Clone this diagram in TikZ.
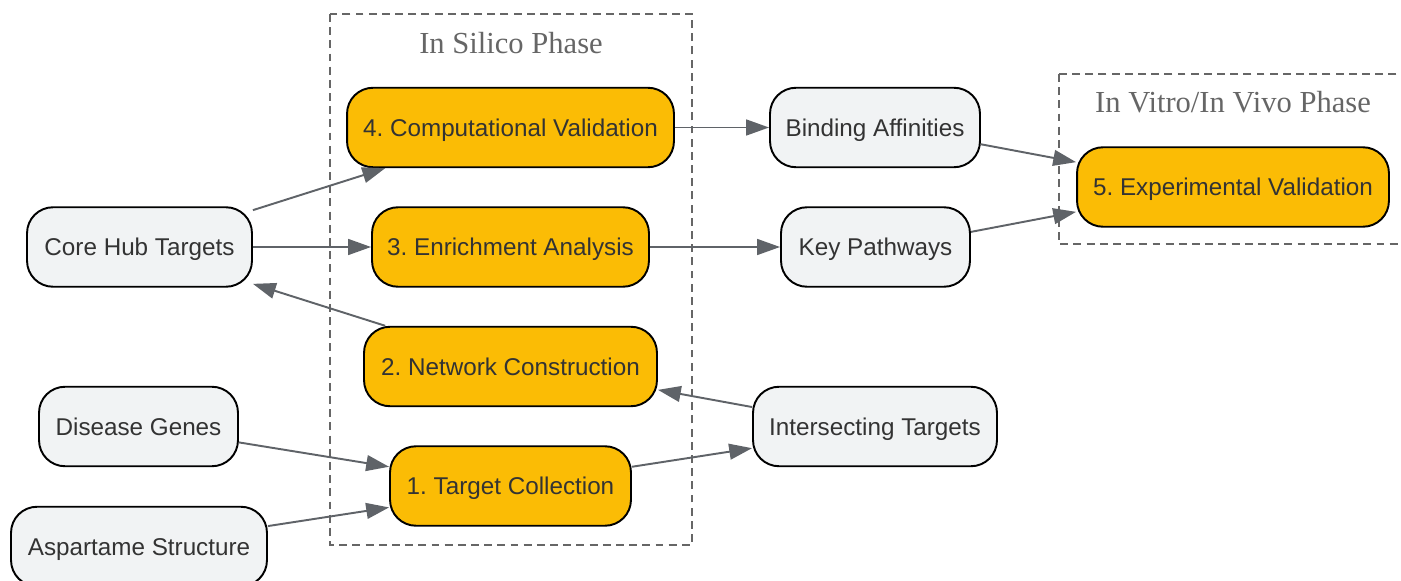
\documentclass[tikz,border=0pt]{standalone}
\usepackage{fontspec}
\setmainfont{Liberation Sans}
\newfontfamily\phasefont{Liberation Serif}
\usepackage{tikz}
\usetikzlibrary{positioning}
\usetikzlibrary{arrows.meta}
\definecolor{stagefill}{HTML}{FBBC05}
\definecolor{itemfill}{HTML}{F1F3F4}
\definecolor{flowgray}{HTML}{5F6368}
\definecolor{phasegray}{HTML}{666666}
\definecolor{textgray}{HTML}{333333}
\frenchspacing
\tikzset{
  box/.style={draw=black, line width=1.1pt, rounded corners=0.52cm, minimum height=1.59cm, inner sep=0pt, text height=9.9pt, text depth=0pt, text=textgray, font=\fontsize{13.8}{16}\selectfont},
  stage/.style={box, fill=stagefill},
  item/.style={box, fill=itemfill},
  phase/.style={draw=phasegray, line width=1.1pt, dash pattern=on 4.5pt off 3pt},
  phaselabel/.style={text=phasegray, font=\phasefont\fontsize{17.4}{20}\selectfont},
  flow/.style={draw=flowgray, line width=1.1pt, -{Triangle[length=13pt,width=9pt]}},
}

\begin{document}
\begin{tikzpicture}[x=0.02cm,y=-0.02cm]
\useasboundingbox (0,0) rectangle (1401,581);
% phases
\draw[phase] (330,14) rectangle (692,545);
\node[phaselabel] (silico) at (511,43) {In Silico Phase};
\draw[phase] (1059,74) rectangle (1420,244);
\node[phaselabel] (vitro) at (1233,102) {In Vitro/In Vivo Phase};
% stages
\node[stage, minimum width=6.54cm] (compval) at (510.5,127.5) {4. Computational Validation};
\node[stage, minimum width=5.54cm] (enrich) at (510.5,247) {3. Enrichment Analysis};
\node[stage, minimum width=5.86cm] (network) at (510.5,366.5) {2. Network Construction};
\node[stage, minimum width=4.82cm] (collect) at (510.5,486) {1. Target Collection};
\node[stage, minimum width=6.24cm] (expval) at (1233,187) {5. Experimental Validation};
% inputs and outputs
\node[item, minimum width=4.5cm] (hub) at (139.5,247) {Core Hub Targets};
\node[item, minimum width=3.98cm] (disease) at (138.5,426.5) {Disease Genes};
\node[item, minimum width=5.12cm] (aspartame) at (139,546.5) {Aspartame Structure};
\node[item, minimum width=4.2cm] (binding) at (875,127.5) {Binding Affinities};
\node[item, minimum width=3.78cm] (pathways) at (875.5,247) {Key Pathways};
\node[item, minimum width=4.88cm] (intersect) at (875,426.5) {Intersecting Targets};
% flows
\draw[flow] (disease.-9) -- (collect.171);
\draw[flow] (aspartame.9) -- (collect.190);
\draw[flow] (collect.9) -- (intersect.190);
\draw[flow] (intersect.171) -- (network.-9);
\draw[flow] (network.162) -- (hub.-18);
\draw[flow] (hub.east) -- (enrich.west);
\draw[flow] (hub.18) -- (compval.198);
\draw[flow] (enrich.east) -- (pathways.west);
\draw[flow] (compval.east) -- (binding.west);
\draw[flow] (binding.-9) -- (expval.171);
\draw[flow] (pathways.9) -- (expval.189);
\end{tikzpicture}
\end{document}
